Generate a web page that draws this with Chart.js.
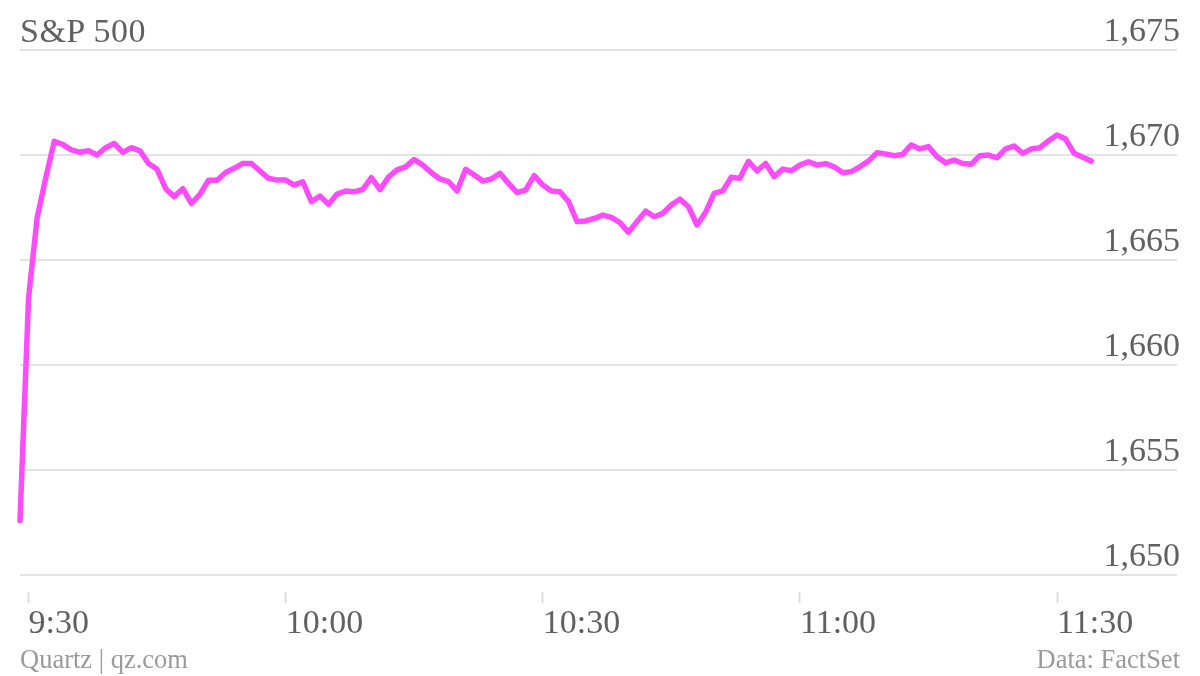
<!DOCTYPE html>
<html>
<head>
<meta charset="utf-8">
<script src="https://cdn.jsdelivr.net/npm/chart.js@4"></script>
<style>
  body { margin: 0; background: #fff; }
  .wrap { position: relative; width: 1200px; height: 676px; font-family: "Liberation Serif", serif; }
  canvas { position: absolute; left: 0; top: 0; }
  .title { position: absolute; left: 20px; top: 14px; font-size: 34px; line-height: 34px; color: #606060; letter-spacing: 0.5px; }
  .foot { position: absolute; top: 646px; font-size: 26.5px; line-height: 26px; color: #9a9a9a; }
</style>
</head>
<body>
<div class="wrap">
  <canvas id="myChart" width="1200" height="676"></canvas>
  <div class="title">S&amp;P 500</div>
  <div class="foot" style="left:20px">Quartz | qz.com</div>
  <div class="foot" style="right:20px">Data: FactSet</div>
</div>
<script>
// one value per minute, first point is 9:29
const firstMinute = 9 * 60 + 29;
const spx = [
  1652.6, 1663.2, 1667.0, 1668.9, 1670.65, 1670.5, 1670.25, 1670.13, 1670.2, 1670.0,
  1670.35, 1670.55, 1670.13, 1670.35, 1670.2, 1669.6, 1669.32, 1668.4, 1668.02, 1668.4,
  1667.7, 1668.13, 1668.8, 1668.8, 1669.17, 1669.37, 1669.6, 1669.6, 1669.24, 1668.89,
  1668.81, 1668.81, 1668.57, 1668.73, 1667.78, 1668.05, 1667.65, 1668.14, 1668.29, 1668.25,
  1668.37, 1668.92, 1668.35, 1668.95, 1669.29, 1669.44, 1669.79, 1669.52, 1669.16, 1668.86,
  1668.73, 1668.29, 1669.32, 1669.05, 1668.76, 1668.86, 1669.13, 1668.65, 1668.21, 1668.33,
  1669.02, 1668.57, 1668.29, 1668.25, 1667.78, 1666.83, 1666.86, 1666.98, 1667.14, 1667.03,
  1666.78, 1666.32, 1666.83, 1667.33, 1667.06, 1667.22, 1667.62, 1667.9, 1667.54, 1666.67,
  1667.27, 1668.17, 1668.29, 1668.94, 1668.89, 1669.7, 1669.24, 1669.6, 1668.97, 1669.33,
  1669.25, 1669.52, 1669.68, 1669.52, 1669.59, 1669.44, 1669.16, 1669.21, 1669.44, 1669.71,
  1670.11, 1670.05, 1669.97, 1670.03, 1670.48, 1670.29, 1670.4, 1669.92, 1669.63, 1669.76,
  1669.6, 1669.56, 1669.97, 1670.0, 1669.87, 1670.29, 1670.43, 1670.08, 1670.29, 1670.35,
  1670.67, 1670.95, 1670.76, 1670.08, 1669.89, 1669.71
];

const xTickMinutes = [570, 600, 630, 660, 690];
const xTickLabels = ["9:30", "10:00", "10:30", "11:00", "11:30"];
const yTicks = [1650, 1655, 1660, 1665, 1670, 1675];
const yTickLabels = ["1,650", "1,655", "1,660", "1,665", "1,670", "1,675"];

const points = spx.map((v, i) => ({ x: firstMinute + i, y: v }));

const config = {
  type: "line",
  data: {
    datasets: [
      {
        label: "S&P 500",
        data: points,
        borderColor: "#fc4cfb",
        borderWidth: 5.5,
        borderJoinStyle: "round",
        borderCapStyle: "round",
        pointRadius: 0,
        tension: 0,
        clip: false,
      },
    ],
  },
  options: {
    responsive: false,
    animation: false,
    layout: {
      padding: { left: 20, right: 17, top: 50, bottom: 32 },
    },
    plugins: {
      legend: { display: false },
      tooltip: { enabled: false },
    },
    scales: {
      x: {
        type: "linear",
        min: firstMinute,
        max: 704,
        border: { display: false },
        grid: {
          drawOnChartArea: false,
          drawTicks: true,
          tickLength: 11,
          tickColor: "#dedede",
          tickWidth: 2,
        },
        afterBuildTicks: (axis) => {
          axis.ticks = xTickMinutes.map((v) => ({ value: v }));
        },
        ticks: {
          align: "start",
          padding: 0,
          autoSkip: false,
          maxRotation: 0,
          color: "#606060",
          font: { family: "'Liberation Serif'", size: 34 },
          callback: (v) => xTickLabels[xTickMinutes.indexOf(v)],
        },
      },
      y: {
        position: "right",
        min: 1649.19,
        max: 1675,
        border: { display: false },
        grid: {
          color: "#e2e2e2",
          lineWidth: 2,
          drawTicks: false,
        },
        afterBuildTicks: (axis) => {
          axis.ticks = yTicks.map((v) => ({ value: v }));
        },
        ticks: {
          mirror: true,
          padding: 3,
          labelOffset: -18,
          color: "#606060",
          font: { family: "'Liberation Serif'", size: 34 },
          callback: (v) => yTickLabels[yTicks.indexOf(v)],
        },
      },
    },
  },
};
const myChart = new Chart(document.getElementById("myChart"), config);
</script>
</body>
</html>
